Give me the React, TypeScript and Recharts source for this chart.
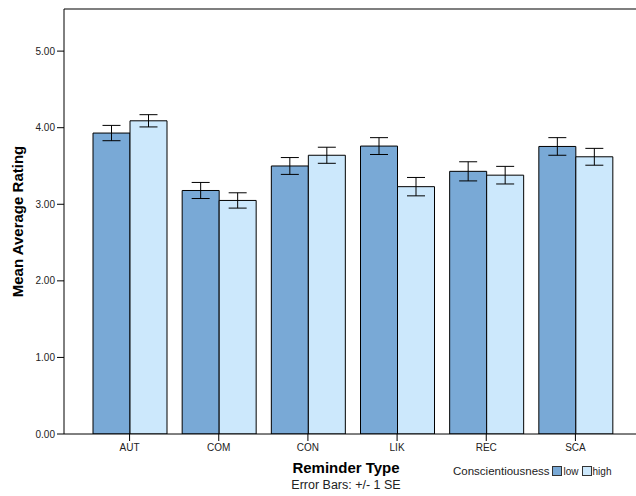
import React from 'react';
import { BarChart, Bar, XAxis, YAxis, ErrorBar, ReferenceLine, Legend, Label } from 'recharts';

const categories = ['AUT', 'COM', 'CON', 'LIK', 'REC', 'SCA'];
const lowMeans = [3.93, 3.18, 3.5, 3.76, 3.43, 3.755];
const highMeans = [4.09, 3.05, 3.64, 3.23, 3.38, 3.62];
const lowSE = [0.1, 0.105, 0.11, 0.11, 0.125, 0.115];
const highSE = [0.08, 0.1, 0.105, 0.12, 0.115, 0.11];
const yTicks = [0, 1, 2, 3, 4, 5];

const data = categories.map((c, i) => ({
  cat: c,
  low: lowMeans[i],
  high: highMeans[i],
  lowErr: lowSE[i],
  highErr: highSE[i],
}));

const FONT = "Arial, 'Liberation Sans', sans-serif";
const LOW_FILL = '#79a9d6';
const HIGH_FILL = '#cce8fc';

const LegendContent = () => (
  <div style={{ display: 'flex', alignItems: 'center', fontFamily: FONT, color: '#222', whiteSpace: 'nowrap' }}>
    <span style={{ fontSize: 11.5, marginRight: 2 }}>Conscientiousness</span>
    <span style={{ display: 'inline-block', width: 8, height: 8, background: LOW_FILL, border: '1px solid #333', marginRight: 2 }} />
    <span style={{ fontSize: 10, marginRight: 3 }}>low</span>
    <span style={{ display: 'inline-block', width: 8, height: 8, background: HIGH_FILL, border: '1px solid #333', marginRight: 1 }} />
    <span style={{ fontSize: 10 }}>high</span>
  </div>
);

export default function App() {
  return (
    <div style={{ position: 'absolute', left: 0, top: 0, width: 636, height: 496, background: '#fff' }}>
      <BarChart
        width={636}
        height={496}
        data={data}
        margin={{ top: 9, right: 0, bottom: 0, left: 0 }}
        barCategoryGap={8}
        barGap={0}
      >
        <XAxis
          dataKey="cat"
          height={62}
          padding={{ left: 21, right: 16 }}
          tickSize={7}
          tickMargin={3}
          axisLine={{ stroke: '#000', strokeWidth: 1 }}
          tickLine={{ stroke: '#000', strokeWidth: 1 }}
          tick={{ fontSize: 10, fill: '#222', fontFamily: FONT }}
        >
          <Label
            content={() => (
              <g fontFamily={FONT}>
                <text x={346} y={472.5} textAnchor="middle" fontSize={15} fontWeight="bold" fill="#000">
                  Reminder Type
                </text>
                <text x={346} y={488.5} textAnchor="middle" fontSize={12.5} fill="#222">
                  Error Bars: +/- 1 SE
                </text>
              </g>
            )}
          />
        </XAxis>
        <YAxis
          width={64}
          domain={[0, 5.55]}
          ticks={yTicks}
          allowDataOverflow
          tickFormatter={(v: number) => v.toFixed(2)}
          tickSize={7}
          tickMargin={2}
          axisLine={{ stroke: '#000', strokeWidth: 1 }}
          tickLine={{ stroke: '#000', strokeWidth: 1 }}
          tick={{ fontSize: 10, fill: '#222', fontFamily: FONT }}
        >
          <Label
            content={() => (
              <text
                x={23}
                y={221.5}
                transform="rotate(-90, 23, 221.5)"
                textAnchor="middle"
                fontSize={15}
                fontWeight="bold"
                fontFamily={FONT}
                fill="#000"
              >
                Mean Average Rating
              </text>
            )}
          />
        </YAxis>
        <ReferenceLine y={5.55} stroke="#555" strokeWidth={1.5} ifOverflow="visible" />
        <Legend
          layout="horizontal"
          verticalAlign="middle"
          align="center"
          content={() => <LegendContent />}
          wrapperStyle={{ position: 'absolute', left: 453, top: 465, width: 'auto', height: 'auto' }}
        />
        <Bar dataKey="low" fill={LOW_FILL} stroke="#000" strokeWidth={1} isAnimationActive={false}>
          <ErrorBar dataKey="lowErr" width={9} stroke="#000" strokeWidth={1} />
        </Bar>
        <Bar dataKey="high" fill={HIGH_FILL} stroke="#000" strokeWidth={1} isAnimationActive={false}>
          <ErrorBar dataKey="highErr" width={9} stroke="#000" strokeWidth={1} />
        </Bar>
      </BarChart>
    </div>
  );
}
